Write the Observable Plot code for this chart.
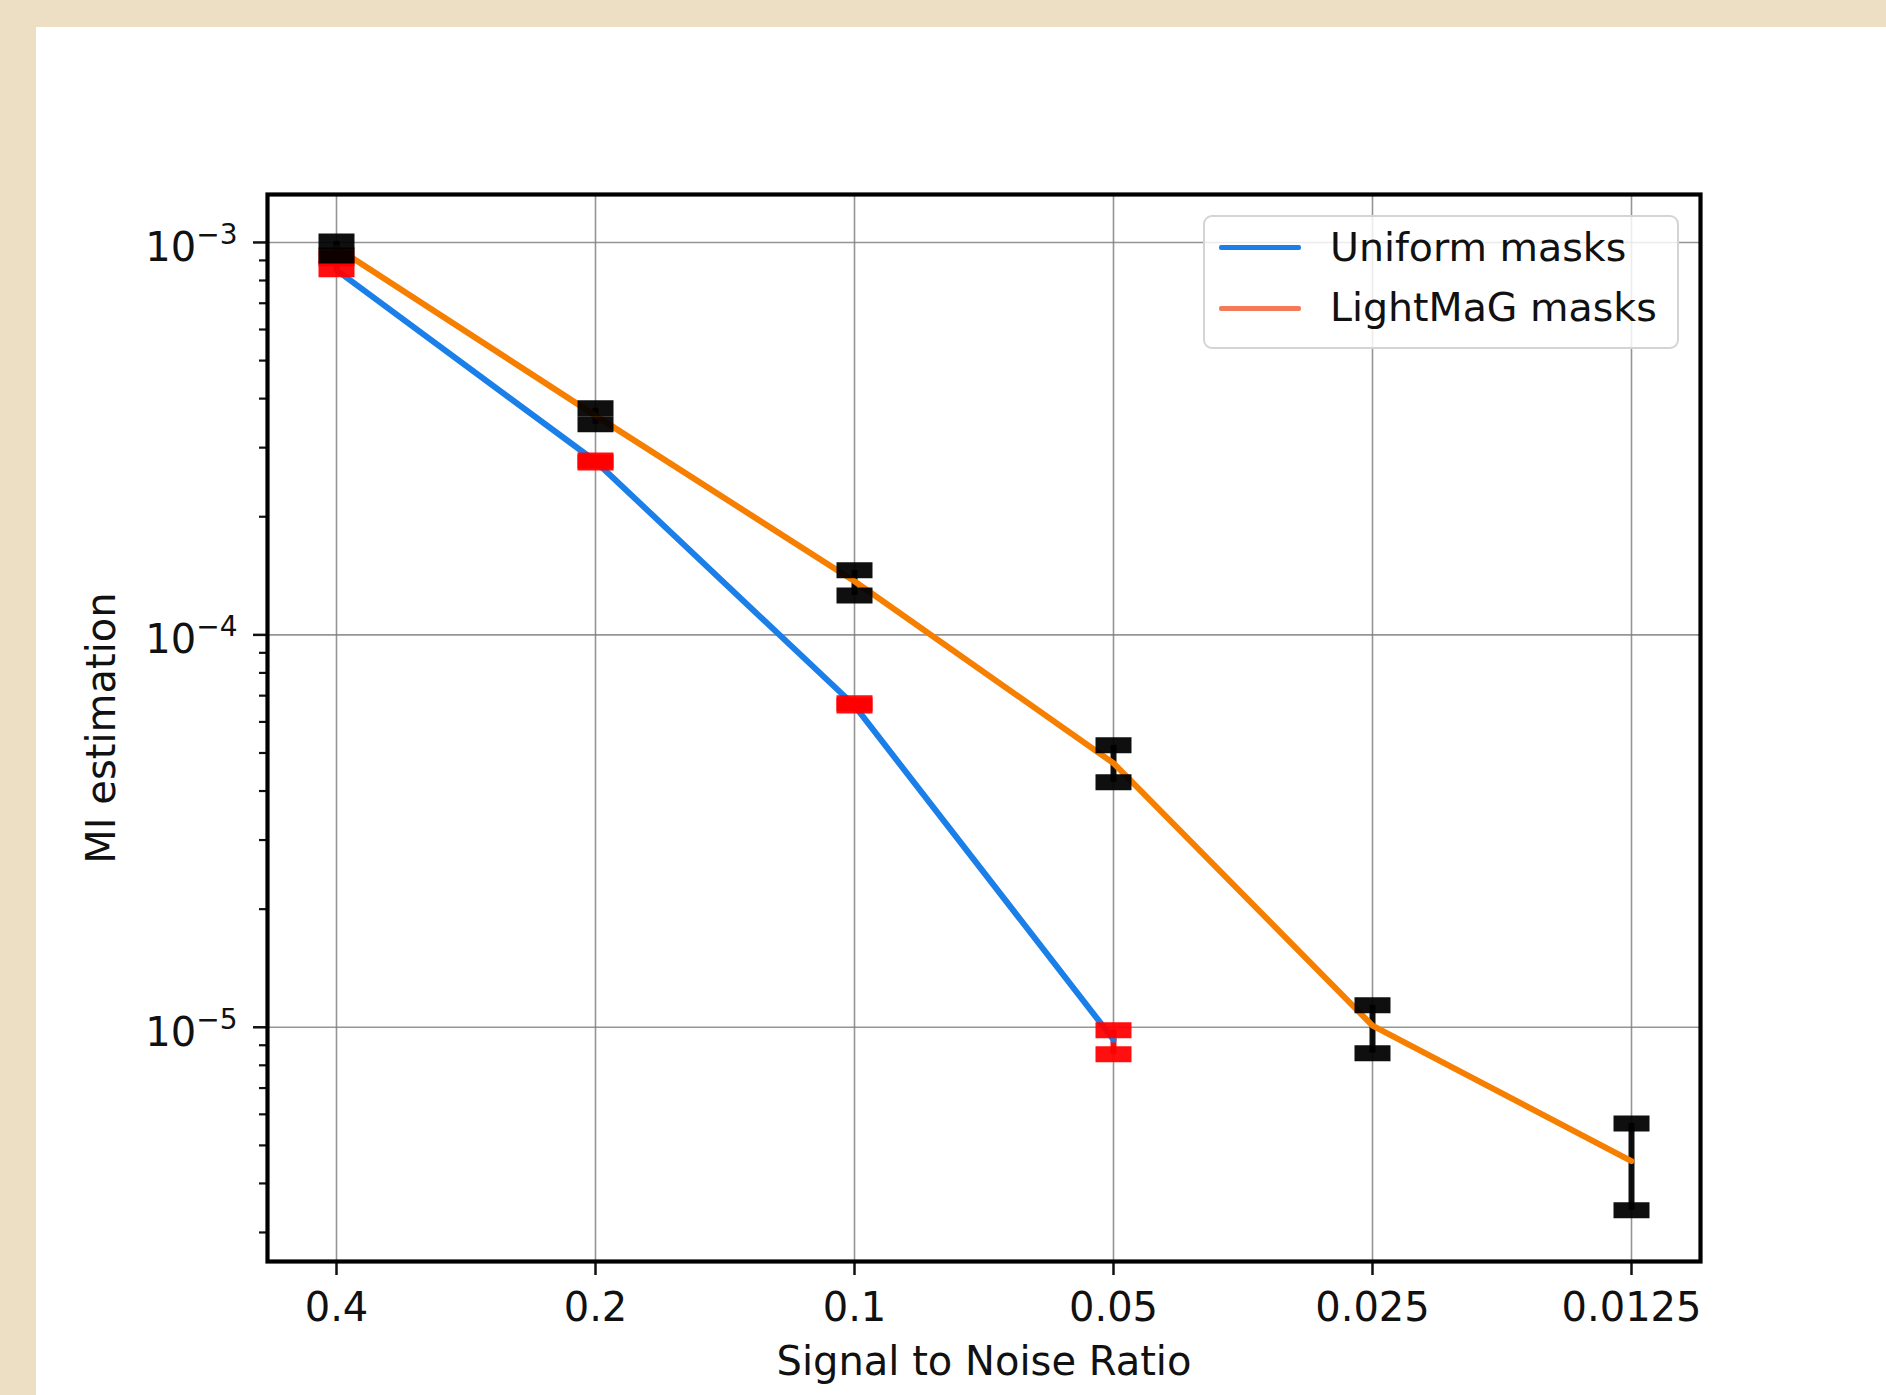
<!DOCTYPE html>
<html><head><meta charset="utf-8">
<script src="https://cdn.jsdelivr.net/npm/d3@7"></script>
<script src="https://cdn.jsdelivr.net/npm/@observablehq/plot@0.6"></script>
<style>
html,body{margin:0;padding:0;background:#ecdfc3;width:1886px;height:1395px;overflow:hidden;}
#panel{position:absolute;left:36px;top:27px;width:1850px;height:1368px;background:#fff;}
#legend{position:absolute;left:1167px;top:188px;width:472px;height:130px;border:2px solid #d4d4d4;border-radius:9px;background:rgba(255,255,255,0.82);font-family:"DejaVu Sans";font-size:39.5px;color:#111;}
#legend .sw{position:absolute;left:14px;width:82px;height:5px;border-radius:2px;}
#legend .lt{position:absolute;left:125px;line-height:1;white-space:nowrap;}
</style></head>
<body>
<div id="panel">
  <div id="chart"></div>
  <div id="legend">
    <div class="sw" style="top:28px;background:#1a7fe8"></div><div class="lt" style="top:11px">Uniform masks</div>
    <div class="sw" style="top:89px;background:#f47b5a"></div><div class="lt" style="top:71px">LightMaG masks</div>
  </div>
</div>
<script>
// SNR categories (x tick labels)
const snrLabels = ["0.4", "0.2", "0.1", "0.05", "0.025", "0.0125"];
// Uniform masks (blue line, red error bars)
const uniformSnr  = ["0.4", "0.2", "0.1", "0.05"];
const uniformMean = [8.5e-4, 2.77e-4, 6.6e-5, 9.3e-6];
const uniformLow  = [8.54e-4, 2.75e-4, 6.61e-5, 8.53e-6];
const uniformHigh = [9.11e-4, 2.78e-4, 6.69e-5, 9.83e-6];
// LightMaG masks (orange line, black error bars)
const lightSnr  = ["0.4", "0.2", "0.1", "0.05", "0.025", "0.0125"];
const lightMean = [9.7e-4, 3.62e-4, 1.37e-4, 4.71e-5, 1.01e-5, 4.56e-6];
const lightLow  = [9.27e-4, 3.44e-4, 1.26e-4, 4.21e-5, 8.59e-6, 3.42e-6];
const lightHigh = [1.006e-3, 3.78e-4, 1.46e-4, 5.23e-5, 1.138e-5, 5.69e-6];
// y ticks
const yMajor = [1e-3, 1e-4, 1e-5];
const yMinor = [];
for (const e of [-6, -5, -4]) for (let m = 2; m <= 9; m++) { const v = m * Math.pow(10, e); if (v > 2.53e-6 && v < 1.325e-3) yMinor.push(v); }

const uniform = uniformSnr.map((s, i) => ({snr: s, mean: uniformMean[i], low: uniformLow[i], high: uniformHigh[i]}));
const light = lightSnr.map((s, i) => ({snr: s, mean: lightMean[i], low: lightLow[i], high: lightHigh[i]}));

const BLUE = "#1a7fe8", ORANGE = "#f77f00";
// error-bar cap: a flat bar symbol
const capSymbol = {draw(context) { context.rect(-18, -8, 36, 16); }};
const capOpts = (color) => ({symbol: capSymbol, r: 1, fill: color, fillOpacity: 0.94, stroke: "none"});

const chart = Plot.plot({
  width: 1850, height: 1368,
  marginLeft: 231, marginRight: 186, marginTop: 167, marginBottom: 134,
  style: {fontFamily: "DejaVu Sans", fontSize: "40px", background: "transparent", color: "#111"},
  x: {type: "point", domain: snrLabels, padding: 0.26},
  y: {type: "log", domain: [2.53e-6, 1.325e-3]},
  marks: [
    Plot.gridX(snrLabels, {stroke: "#7a7a7a", strokeOpacity: 0.8, strokeWidth: 1.6}),
    Plot.gridY(yMajor, {stroke: "#7a7a7a", strokeOpacity: 0.8, strokeWidth: 1.6}),
    Plot.axisX(snrLabels, {tickSize: 14, tickPadding: 17, strokeWidth: 2.5, fontSize: 40, label: "Signal to Noise Ratio", labelAnchor: "center", labelArrow: "none", labelOffset: 113}),
    Plot.axisY(yMinor, {tickSize: 8, strokeWidth: 2.2, tickFormat: () => "", label: null}),
    Plot.axisY(yMajor, {tickSize: 14, tickPadding: 16, strokeWidth: 2.5, fontSize: 40, tickFormat: d => String(Math.round(Math.log10(d))), label: "MI estimation", labelAnchor: "center", labelArrow: "none", labelOffset: 181}),
    Plot.ruleX(uniform, {x: "snr", y1: "low", y2: "high", stroke: "#ff0000", strokeWidth: 6, strokeOpacity: 0.94}),
    Plot.ruleX(light, {x: "snr", y1: "low", y2: "high", stroke: "#000", strokeWidth: 6, strokeOpacity: 0.94}),
    Plot.line(uniform, {x: "snr", y: "mean", stroke: BLUE, strokeWidth: 6}),
    Plot.line(light, {x: "snr", y: "mean", stroke: ORANGE, strokeWidth: 6}),
    Plot.dot(uniform, {x: "snr", y: "low", ...capOpts("#ff0000")}),
    Plot.dot(uniform, {x: "snr", y: "high", ...capOpts("#ff0000")}),
    Plot.dot(light, {x: "snr", y: "low", ...capOpts("#000")}),
    Plot.dot(light, {x: "snr", y: "high", ...capOpts("#000")}),
    Plot.frame({stroke: "#000", strokeWidth: 4.2})
  ]
});
document.getElementById("chart").appendChild(chart);

// Render major y tick labels as 10 with a superscript exponent
d3.select(chart).selectAll('g[aria-label="y-axis tick label"] text').each(function () {
  const txt = this.textContent;
  if (!txt) { this.remove(); return; }
  const exp = txt.replace("-", "\u2212");
  const t = d3.select(this);
  t.text("10").attr("dy", "0.14em");
  t.append("tspan").attr("dy", "-17px").attr("font-size", "28px").text(exp);
});
</script>
</body></html>
